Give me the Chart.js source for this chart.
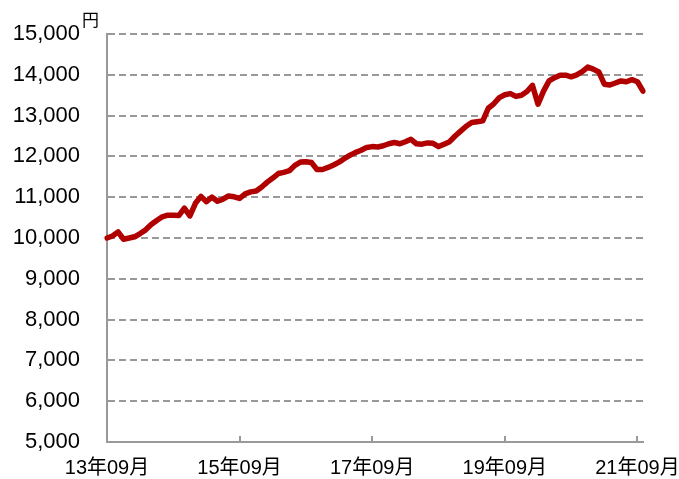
<!DOCTYPE html>
<html>
<head>
<meta charset="utf-8">
<script src="https://cdn.jsdelivr.net/npm/chart.js@4/dist/chart.umd.min.js"></script>
<style>
  body { margin: 0; background: #fff; }
</style>
</head>
<body>
<canvas id="canvas1" width="679" height="479"></canvas>
<script>
// monthly prices from 2013/09
var startYear = 13, startMonth = 9;
var prices = [
  10000, 10050, 10150, 9970, 10000, 10030, 10110, 10200, 10330, 10430,
  10520, 10560, 10560, 10550, 10730, 10540, 10850, 11020, 10890, 11000,
  10900, 10950, 11030, 11010, 10970, 11080, 11130, 11150, 11250, 11370,
  11470, 11580, 11610, 11650, 11780, 11860, 11870, 11850, 11680, 11680,
  11730, 11790, 11860, 11950, 12030, 12100, 12150, 12220, 12240, 12230,
  12260, 12310, 12340, 12310, 12360, 12420, 12310, 12300, 12330, 12320,
  12240, 12300, 12360, 12500, 12620, 12740, 12830, 12850, 12870, 13180,
  13290, 13440, 13510, 13540, 13470, 13500, 13590, 13740, 13280, 13600,
  13850, 13930, 13990, 13990, 13950, 14000, 14080, 14190, 14140, 14070,
  13770, 13750, 13800, 13850, 13830, 13880, 13830, 13600
];
var labelEvery = 24;
var yMin = 5000, yMax = 15000, yStep = 1000;

var months = [];
for (var i = 0; i < prices.length; i++) {
  var m = startMonth - 1 + i;
  var yy = startYear + Math.floor(m / 12);
  var mm = (m % 12) + 1;
  months.push(yy + "年" + (mm < 10 ? "0" + mm : mm) + "月");
}

Chart.defaults.font.family = "'Liberation Sans', Arial, 'Noto Sans CJK JP', sans-serif";
Chart.defaults.color = "#000";

// unit label and small inward ticks on the x axis
var extras = {
  id: "extras",
  afterDraw: function (chart) {
    var ctx = chart.ctx;
    var x = chart.scales.x;
    ctx.save();
    ctx.strokeStyle = "#999";
    ctx.lineWidth = 2;
    ctx.beginPath();
    for (var i = 0; i < prices.length; i += labelEvery) {
      var px = Math.round(x.getPixelForValue(i));
      ctx.moveTo(px, x.top);
      ctx.lineTo(px, x.top - 6);
    }
    ctx.stroke();
    ctx.fillStyle = "#000";
    ctx.font = "17px 'Noto Sans CJK JP', sans-serif";
    ctx.textBaseline = "top";
    ctx.fillText("円", 82, 11);
    ctx.restore();
  }
};

new Chart(document.getElementById("canvas1"), {
  type: "line",
  data: {
    labels: months,
    datasets: [{
      data: prices,
      borderColor: "#B00000",
      borderWidth: 5.5,
      pointRadius: 0,
      tension: 0,
      borderCapStyle: "round",
      borderJoinStyle: "round"
    }]
  },
  options: {
    responsive: false,
    animation: false,
    layout: { padding: { top: 34, right: 36, left: 0, bottom: 0 } },
    plugins: { legend: { display: false }, tooltip: { enabled: false } },
    scales: {
      x: {
        afterFit: function (s) { s.height = 37; s.paddingLeft = 0; s.paddingRight = 0; },
        grid: { display: false, drawTicks: false },
        border: { color: "#999", width: 2 },
        ticks: {
          autoSkip: false,
          maxRotation: 0,
          padding: 14,
          font: { size: 20 },
          callback: function (v, i) { return i % labelEvery === 0 ? months[i] : null; }
        }
      },
      y: {
        min: yMin,
        max: yMax,
        afterFit: function (s) { s.width = 107; s.paddingTop = 0; s.paddingBottom = 0; },
        grid: { color: "#999", lineWidth: 2, drawTicks: false },
        border: { color: "#999", width: 2, dash: [7, 4] },
        ticks: {
          stepSize: yStep,
          padding: 27,
          font: { size: 22 },
          callback: function (v) { return v.toLocaleString("en-US"); }
        }
      }
    }
  },
  plugins: [extras]
});
</script>
</body>
</html>
